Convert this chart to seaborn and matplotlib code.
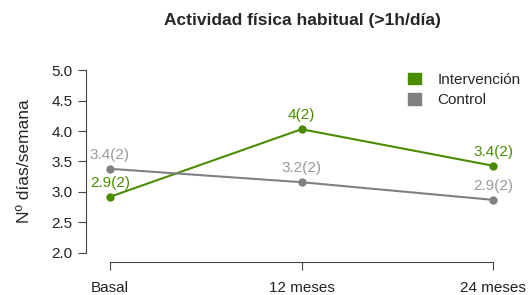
import pandas as pd
import seaborn as sns
import matplotlib.pyplot as plt
from matplotlib.patches import Patch

# data
momentos = ["Basal", "12 meses", "24 meses"]
intervencion = [2.92, 4.03, 3.43]
control = [3.38, 3.16, 2.87]
etiq_intervencion = ["2.9(2)", "4(2)", "3.4(2)"]
etiq_control = ["3.4(2)", "3.2(2)", "2.9(2)"]

verde = "#4a8c00"
gris = "#808080"
gris_txt = "#9a9a9a"

df = pd.DataFrame({
    "momento": momentos * 2,
    "x": list(range(len(momentos))) * 2,
    "valor": intervencion + control,
    "grupo": ["Intervención"] * 3 + ["Control"] * 3,
})

sns.set_style("white")
plt.rcParams["font.family"] = ["Liberation Sans", "DejaVu Sans"]

fig = plt.figure(figsize=(5.29, 2.95), dpi=100)
ax = fig.add_axes([86 / 529, 1 - 262 / 295, (517 - 86) / 529, (262 - 61) / 295])

sns.lineplot(data=df, x="x", y="valor", hue="grupo",
             palette={"Intervención": verde, "Control": gris},
             marker="o", markersize=6, markeredgewidth=0, linewidth=1.5,
             legend=False, ax=ax)

for i, (v, t) in enumerate(zip(intervencion, etiq_intervencion)):
    ax.annotate(t, (i, v), xytext=(0, 5), textcoords="offset points",
                ha="center", va="bottom", color=verde, fontsize=11)
for i, (v, t) in enumerate(zip(control, etiq_control)):
    ax.annotate(t, (i, v), xytext=(0, 5), textcoords="offset points",
                ha="center", va="bottom", color=gris_txt, fontsize=11)

ax.set_xlim(-0.125, 2.125)
ax.set_ylim(1.85, 5.15)
ax.set_xticks(range(len(momentos)))
ax.set_xticklabels(momentos, fontsize=11)
ax.set_yticks([2.0, 2.5, 3.0, 3.5, 4.0, 4.5, 5.0])
ax.set_yticklabels(["2.0", "2.5", "3.0", "3.5", "4.0", "4.5", "5.0"], fontsize=11)
ax.set_xlabel("")
ax.set_ylabel("Nº días/semana", fontsize=12.5, labelpad=14)

for s in ["top", "right"]:
    ax.spines[s].set_visible(False)
ax.spines["left"].set_bounds(2.0, 5.0)
ax.spines["bottom"].set_bounds(0, 2)
for s in ["left", "bottom"]:
    ax.spines[s].set_color("#444444")
    ax.spines[s].set_linewidth(0.8)
ax.tick_params(axis="both", which="both", direction="out", length=6,
               width=0.8, color="#444444", left=True, bottom=True,
               labelcolor="#222222")
ax.tick_params(axis="x", pad=8)

ax.legend(handles=[Patch(color=verde, label="Intervención"),
                   Patch(color=gris, label="Control")],
          loc="upper right", bbox_to_anchor=(1.04, 1.01), frameon=False,
          fontsize=11, handlelength=0.8, handleheight=0.8,
          handletextpad=1.1, labelspacing=0.4)

fig.suptitle("Actividad física habitual (>1h/día)", fontsize=12.5,
             fontweight="bold", x=302 / 529, y=1 - 20 / 295, va="center")

fig.savefig("out.png", dpi=100)
